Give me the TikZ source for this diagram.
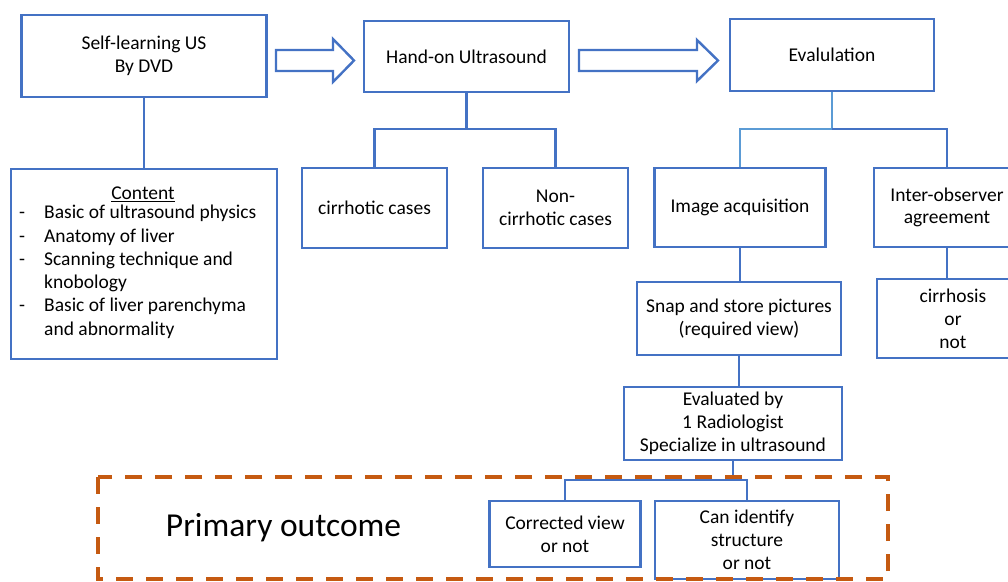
\documentclass[tikz,border=0pt]{standalone}
\usepackage{fontspec}
\setmainfont{Carlito}
\definecolor{boxblue}{HTML}{4472C4}
\definecolor{lightblue}{HTML}{5B9BD5}
\definecolor{dashorange}{HTML}{C55A11}
\tikzset{
  box/.style={draw=boxblue, line width=2.4pt, fill=white, inner sep=0pt, align=center,
    font=\fontsize{19.5}{22.8}\selectfont},
  plaintext/.style={inner sep=0pt, align=left, font=\fontsize{19.5}{23.3}\selectfont},
  wire/.style={draw=boxblue, line width=2.4pt},
  lightwire/.style={draw=lightblue, line width=2.4pt},
  blockarrow/.style={draw=boxblue, line width=2.4pt, fill=white, line join=miter},
  outcomebox/.style={draw=dashorange, line width=3.8pt, dash pattern=on 17pt off 13pt}
}
\begin{document}
\begin{tikzpicture}[x=1pt,y=-1pt]
\useasboundingbox (0,0) rectangle (1008,581);
\clip (0,0) rectangle (1008,581);

% top row
\node[box, minimum width=245pt, minimum height=82pt] (self) at (144,56) {Self-learning US\\By DVD};
\node[box, minimum width=205pt, minimum height=71pt] (hand) at (466.5,56.5) {Hand-on Ultrasound};
\node[box, minimum width=204pt, minimum height=72pt] (eval) at (832,55) {Evalulation};

% block arrows
\draw[blockarrow] (276,50) -- (333,50) -- (333,39) -- (354,60.5) -- (333,82) -- (333,71) -- (276,71) -- cycle;
\draw[blockarrow] (579,50) -- (697,50) -- (697,40) -- (718,60.5) -- (697,81) -- (697,71) -- (579,71) -- cycle;

% content box
\node[box, minimum width=266pt, minimum height=190pt] (content) at (144,264) {};
\node[plaintext, anchor=center] (contenthead) at (143,194) {\underline{Content}};
\node[plaintext, anchor=north west] (contentlist) at (19,205) {%
\makebox[25pt][l]{-}Basic of ultrasound physics\\
\makebox[25pt][l]{-}Anatomy of liver\\
\makebox[25pt][l]{-}Scanning technique and\\
\makebox[25pt][l]{}knobology\\
\makebox[25pt][l]{-}Basic of liver parenchyma\\
\makebox[25pt][l]{}and abnormality};

% second row
\node[box, minimum width=145pt, minimum height=80pt] (cirr) at (374.5,208) {cirrhotic cases};
\node[box, minimum width=145pt, minimum height=80pt] (noncirr) at (555.5,208) {Non-\\cirrhotic cases};
\node[box, minimum width=171pt, minimum height=79pt] (imgacq) at (740,207.5) {Image acquisition};
\node[box, minimum width=146pt, minimum height=79pt] (inter) at (947,207.5) {Inter-observer\\agreement};

% third row
\node[box, minimum width=204pt, minimum height=73pt] (snap) at (739,318.5) {Snap and store pictures\\(required view)};
\node[box, minimum width=152pt, minimum height=79pt] (cirrhosis) at (953,318.5) {cirrhosis\\or\\not};
\node[box, minimum width=218pt, minimum height=73pt] (evald) at (733,423.5) {Evaluated by\\1 Radiologist\\Specialize in ultrasound};

% outcome row
\node[box, minimum width=151pt, minimum height=66pt] (corr) at (565,534) {Corrected view\\or not};
\node[box, minimum width=184pt, minimum height=78pt] (canid) at (747,540) {Can identify\\structure\\or not};
\node[inner sep=0pt, font=\fontsize{33.5}{40}\selectfont] (primary) at (283.5,528) {Primary outcome};

% connectors
\draw[wire] (self.south) -- (content.north);

\coordinate (jhand) at (466.5,129);
\draw[wire] (hand.south) -- (jhand);
\draw[wire] (cirr.north) |- (jhand) -| (noncirr.north);

\coordinate (jeval) at (832,129);
\draw[lightwire] (eval.south) -- (jeval);
\draw[lightwire] (imgacq.north) |- (jeval);
\draw[wire] (jeval) -| (inter.north);

\draw[wire] (imgacq.south) -- (imgacq.south |- snap.north);
\draw[wire] (snap.south) -- (snap.south |- evald.north);
\draw[wire] (inter.south) -- (inter.south |- cirrhosis.north);

\coordinate (jout) at (733,480);
\draw[wire] (evald.south) -- (jout);
\draw[wire] (corr.north) |- (jout) -| (canid.north);

% dashed outcome frame
\draw[outcomebox] (98,477) rectangle (888,579);
\end{tikzpicture}
\end{document}
